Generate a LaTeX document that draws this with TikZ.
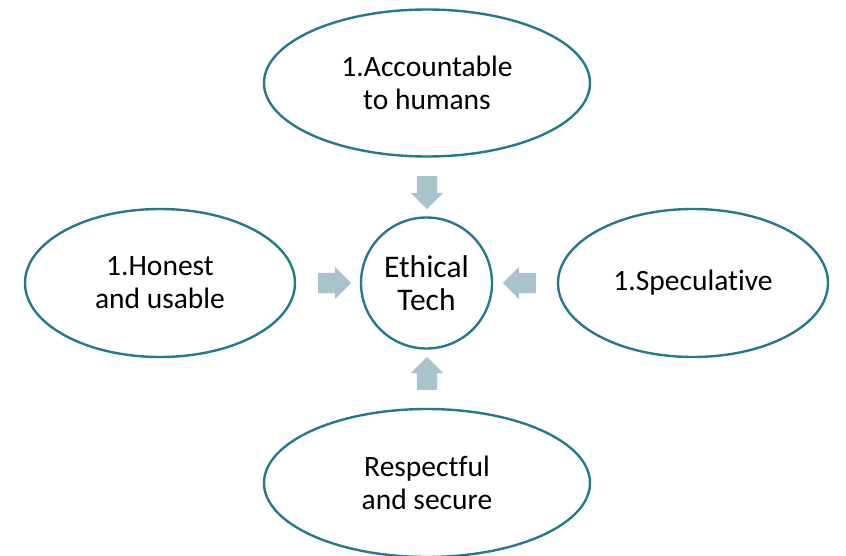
\documentclass[tikz,border=0pt]{standalone}
\usepackage{fontspec}
\setmainfont{Carlito}[Ligatures=NoCommon]
\usetikzlibrary{shapes.geometric,shapes.arrows}
\definecolor{rim}{HTML}{24798B}
\definecolor{blockarrow}{HTML}{A9C3CD}
\tikzset{
  bubble/.style={ellipse, draw=rim, line width=2.4pt, fill=white, inner sep=0pt,
    align=center, font=\fontsize{29.5}{33}\selectfont},
  hub/.style={circle, draw=rim, line width=2.4pt, fill=white, inner sep=0pt,
    minimum size=131pt, align=center, font=\fontsize{31.5}{33}\selectfont},
  blockarr/.style={single arrow, fill=blockarrow, draw=none, inner sep=0pt,
    inner ysep=10pt, minimum height=33pt, single arrow head extend=6pt}
}
\begin{document}
\begin{tikzpicture}[x=1pt,y=-1pt]
\useasboundingbox (0,0) rectangle (846,556);
\node[hub] (hub) at (426.5,283) {Ethical\\Tech};
\node[bubble, minimum width=326pt, minimum height=147pt] (top) at (427,83) {1.Accountable\\to humans};
\node[bubble, minimum width=270pt, minimum height=148pt] (left) at (160,283) {1.Honest\\and usable};
\node[bubble, minimum width=270pt, minimum height=148pt] (right) at (693,283) {1.Speculative};
\node[bubble, minimum width=326pt, minimum height=148pt] (bottom) at (427,483) {Respectful\\and secure};
\node[blockarr, rotate=-90] (atop) at (427,187.5) {};
\node[blockarr] (aleft) at (329.5,283) {};
\node[blockarr, rotate=180] (aright) at (524.5,283) {};
\node[blockarr, rotate=90] (abottom) at (427,378.5) {};
\end{tikzpicture}
\end{document}
